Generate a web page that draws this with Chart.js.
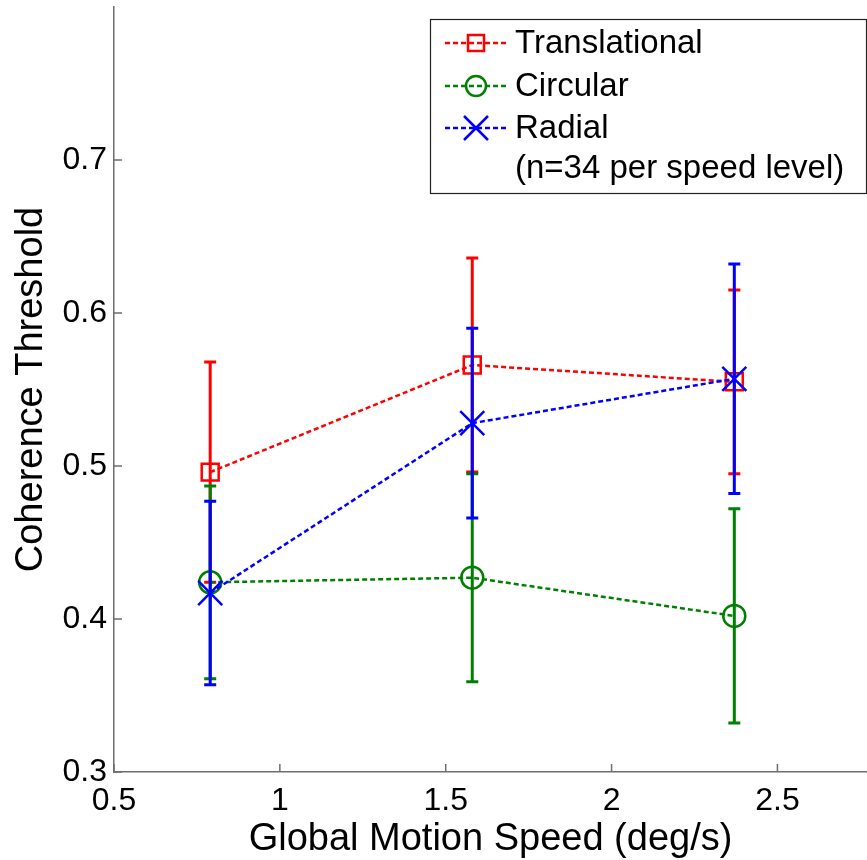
<!DOCTYPE html>
<html>
<head>
<meta charset="utf-8">
<script src="https://cdn.jsdelivr.net/npm/chart.js@4/dist/chart.umd.min.js"></script>
<style>
  html, body { margin: 0; padding: 0; background: #fff; }
  #wrap { width: 867px; height: 860px; }
</style>
</head>
<body>
<div id="wrap"><canvas id="grafico"></canvas></div>
<script>
// valores
const velocidades = [0.79, 1.58, 2.37];
const translacional = [0.496, 0.566, 0.555];
const translacionalErro = [0.072, 0.070, 0.060];
const circular = [0.424, 0.427, 0.402];
const circularErro = [0.063, 0.068, 0.070];
const radial = [0.417, 0.528, 0.557];
const radialErro = [0.060, 0.062, 0.075];
const xTicks = [0.5, 1, 1.5, 2, 2.5];
const yTicks = [0.3, 0.4, 0.5, 0.6, 0.7];
const nomes = ['Translational', 'Circular', 'Radial'];
const nota = '(n=34 per speed level)';

const fonte = '"Liberation Sans", Arial, Helvetica, sans-serif';
const cores = ['#ff0000', '#008000', '#0000ff'];
const erros = [translacionalErro, circularErro, radialErro];

function pontos(valores) {
    return velocidades.map((v, i) => ({ x: v, y: valores[i] }));
}

// barras de erro desenhadas antes de cada série (fica por baixo da linha)
const barrasErro = {
    id: 'barrasErro',
    beforeDatasetDraw(chart, args) {
        const ctx = chart.ctx;
        const xs = chart.scales.x, ys = chart.scales.y;
        const ds = chart.data.datasets[args.index];
        const e = erros[args.index];
        ctx.save();
        ctx.strokeStyle = cores[args.index];
        ctx.lineWidth = 3;
        ctx.setLineDash([]);
        ds.data.forEach((p, i) => {
            const x = xs.getPixelForValue(p.x);
            const yTop = ys.getPixelForValue(p.y + e[i]);
            const yBot = ys.getPixelForValue(p.y - e[i]);
            ctx.beginPath();
            ctx.moveTo(x, yTop); ctx.lineTo(x, yBot);
            ctx.moveTo(x - 6, yTop); ctx.lineTo(x + 6, yTop);
            ctx.moveTo(x - 6, yBot); ctx.lineTo(x + 6, yBot);
            ctx.stroke();
        });
        ctx.restore();
    }
};

// marcas dos eixos para dentro e legenda
const extras = {
    id: 'extras',
    afterDraw(chart) {
        const ctx = chart.ctx;
        const xs = chart.scales.x, ys = chart.scales.y;
        const area = chart.chartArea;
        ctx.save();
        ctx.strokeStyle = '#6e6e6e';
        ctx.lineWidth = 1.5;
        ctx.beginPath();
        xTicks.forEach(v => {
            const x = xs.getPixelForValue(v);
            ctx.moveTo(x, area.bottom); ctx.lineTo(x, area.bottom - 8);
        });
        yTicks.forEach(v => {
            const y = ys.getPixelForValue(v);
            ctx.moveTo(area.left, y); ctx.lineTo(area.left + 8, y);
        });
        ctx.stroke();

        // legenda
        const bx = 430, by = 19, bw = 436, bh = 174;
        ctx.fillStyle = '#fff';
        ctx.fillRect(bx, by, bw, bh);
        ctx.strokeStyle = '#222';
        ctx.lineWidth = 1.2;
        ctx.strokeRect(bx + 0.5, by + 0.5, bw, bh);
        const linhas = [43, 86, 128];
        ctx.font = '33px ' + fonte;
        ctx.textBaseline = 'middle';
        linhas.forEach((y, i) => {
            ctx.strokeStyle = cores[i];
            ctx.lineWidth = 2.5;
            ctx.setLineDash([5, 3]);
            ctx.beginPath();
            ctx.moveTo(445, y); ctx.lineTo(507, y);
            ctx.stroke();
            ctx.setLineDash([]);
            ctx.beginPath();
            if (i === 0) {
                ctx.rect(468, y - 8, 16, 16);
            } else if (i === 1) {
                ctx.arc(476, y, 10, 0, Math.PI * 2);
            } else {
                ctx.moveTo(464, y - 12); ctx.lineTo(488, y + 12);
                ctx.moveTo(464, y + 12); ctx.lineTo(488, y - 12);
            }
            ctx.stroke();
            ctx.fillStyle = '#000';
            ctx.fillText(nomes[i], 515, y + 1);
        });
        ctx.fillText(nota, 515, 169);
        ctx.restore();
    }
};

const ctx = document.getElementById('grafico').getContext('2d');
new Chart(ctx, {
    type: 'line',
    data: {
        datasets: [
            {
                label: nomes[0], data: pontos(translacional), order: 3,
                borderColor: cores[0], borderWidth: 2.5, borderDash: [5, 3],
                pointStyle: 'rect', pointRadius: 12, pointBorderWidth: 2.5,
                pointBorderColor: cores[0], pointBackgroundColor: 'rgba(0,0,0,0)'
            },
            {
                label: nomes[1], data: pontos(circular), order: 2,
                borderColor: cores[1], borderWidth: 2.5, borderDash: [5, 3],
                pointStyle: 'circle', pointRadius: 11, pointBorderWidth: 2.5,
                pointBorderColor: cores[1], pointBackgroundColor: 'rgba(0,0,0,0)'
            },
            {
                label: nomes[2], data: pontos(radial), order: 1,
                borderColor: cores[2], borderWidth: 2.5, borderDash: [5, 3],
                pointStyle: 'crossRot', pointRadius: 17, pointBorderWidth: 2.5,
                pointBorderColor: cores[2], pointBackgroundColor: 'rgba(0,0,0,0)'
            }
        ]
    },
    options: {
        responsive: true,
        maintainAspectRatio: false,
        animation: false,
        devicePixelRatio: 1,
        layout: { autoPadding: false, padding: { top: 7, right: 0, left: 0, bottom: 0 } },
        plugins: { legend: { display: false }, tooltip: { enabled: false } },
        scales: {
            x: {
                type: 'linear', min: 0.5, max: 2.77,
                afterBuildTicks: s => { s.ticks = xTicks.map(v => ({ value: v })); },
                afterFit: s => { s.height = 88; s.paddingLeft = 0; s.paddingRight = 0; },
                grid: { display: false, drawTicks: false },
                border: { display: true, color: '#6e6e6e', width: 1.5 },
                ticks: {
                    color: '#000', padding: 10, maxRotation: 0,
                    font: { family: fonte, size: 32 },
                    callback: v => String(v)
                },
                title: {
                    display: true, text: 'Global Motion Speed (deg/s)', color: '#000',
                    font: { family: fonte, size: 38 }, padding: { top: 0, bottom: -2 }
                }
            },
            y: {
                type: 'linear', min: 0.3, max: 0.8,
                afterBuildTicks: s => { s.ticks = yTicks.map(v => ({ value: v })); },
                afterFit: s => { s.width = 114; s.paddingTop = 0; s.paddingBottom = 0; },
                grid: { display: false, drawTicks: false },
                border: { display: true, color: '#6e6e6e', width: 1.5 },
                ticks: {
                    color: '#000', padding: 7,
                    font: { family: fonte, size: 32 },
                    callback: v => String(v)
                },
                title: {
                    display: true, text: 'Coherence Threshold', color: '#000',
                    font: { family: fonte, size: 38 }, padding: { top: 9, bottom: 0 }
                }
            }
        }
    },
    plugins: [barrasErro, extras]
});
</script>
</body>
</html>
